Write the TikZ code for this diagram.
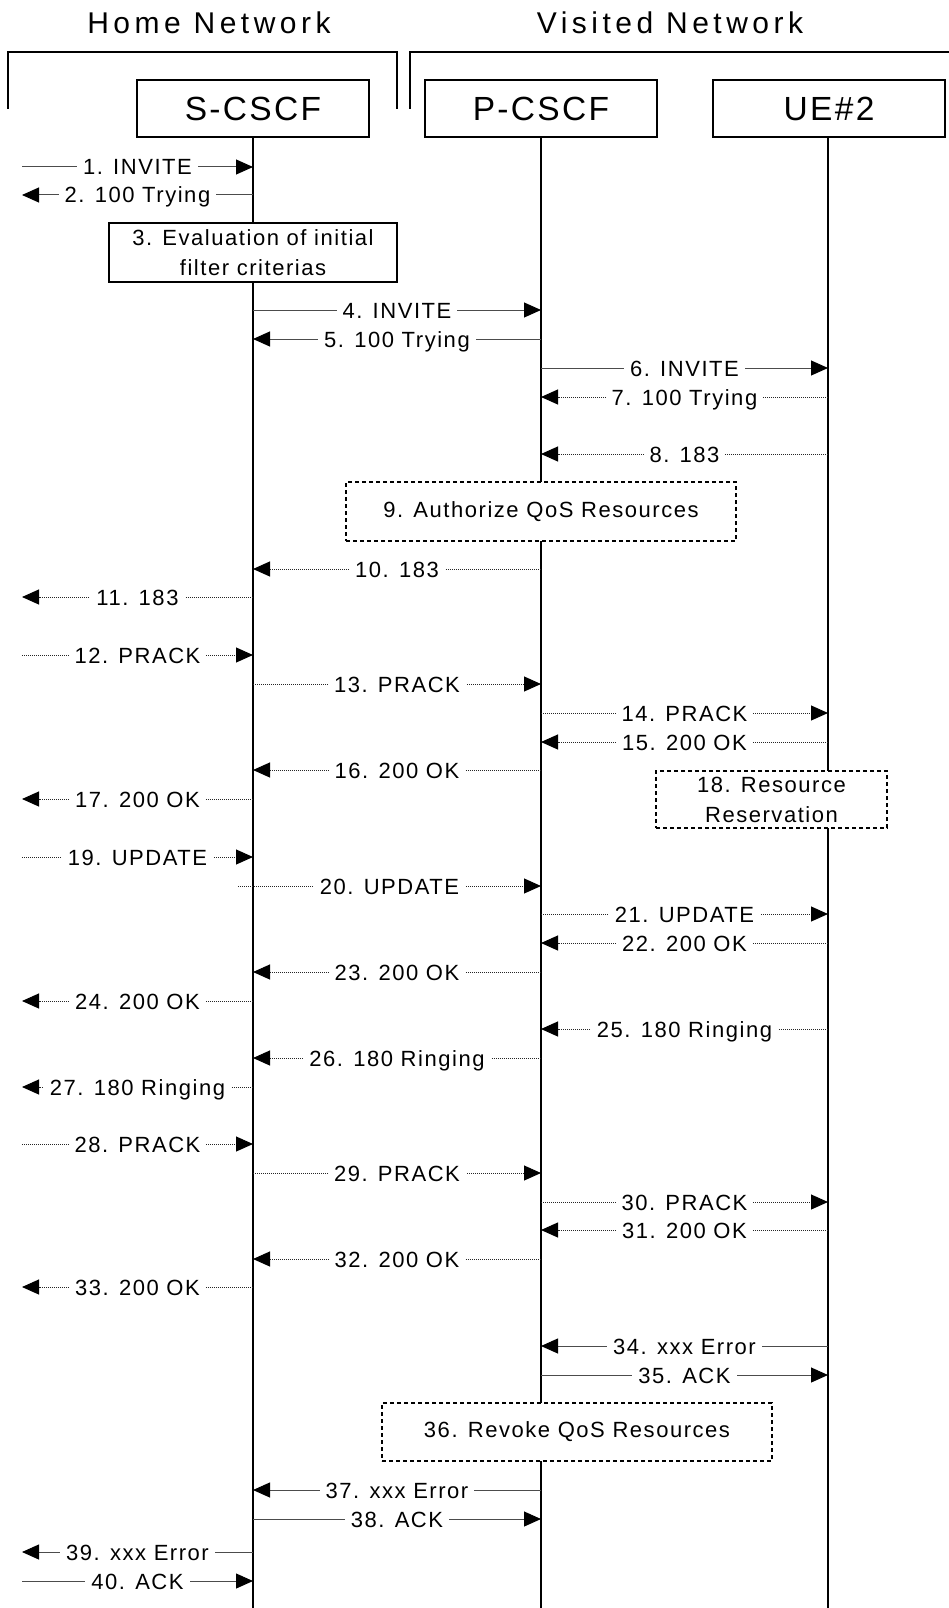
\documentclass[tikz,border=0pt]{standalone}
\usepackage{fontspec}
\setmainfont{Liberation Sans}
\newfontfamily\msgfam[LetterSpace=7]{Liberation Sans}
\newfontfamily\hdrfam[LetterSpace=15]{Liberation Sans}
\usetikzlibrary{arrows.meta}

\newcommand\msg[6]{%
  \coordinate (f#1) at (#3,#5);
  \coordinate (t#1) at (#4,#5);
  \draw[#2] (f#1) -- node[lbl]{#6} (t#1);
}
\def\xL{22}
\def\xS{253}
\def\xP{541}
\def\xU{828}

\tikzset{
  lbl/.style={fill=white, inner xsep=6pt, inner ysep=1pt, text height=16pt, text depth=0pt,
    font=\msgfam\fontsize{22}{30}\selectfont},
  smsg/.style={draw=black!70, line width=1pt, -{Triangle[length=17pt,width=15pt,color=black]}},
  dmsg/.style={smsg, draw=black!85, dash pattern=on 1pt off 1pt},
  life/.style={line width=2pt},
  entity/.style={draw, line width=2pt, fill=white, minimum width=232pt, minimum height=57pt,
    inner sep=0pt, font=\msgfam\fontsize{33.5}{40}\selectfont},
  proc/.style={draw, line width=2pt, fill=white, inner sep=0pt, align=center,
    font=\msgfam\fontsize{22}{30}\selectfont},
  dproc/.style={proc, dash pattern=on 4pt off 3pt},
  bracket/.style={line width=2pt},
  hdr/.style={anchor=base, inner sep=0pt, font=\hdrfam\fontsize{30}{36}\selectfont},
}

\begin{document}
\begin{tikzpicture}[x=1pt,y=-1pt]
\useasboundingbox (0,0) rectangle (949,1608);

\node[hdr] (hn) at (209,34) {Home Network};
\node[hdr] (vn) at (670,34) {Visited Network};
\draw[bracket] (8,109) -- (8,52) -- (397,52) -- (397,109);
\draw[bracket] (410,109) -- (410,52) -- (949,52);

\node[entity] (S) at (253,108.5) {S-CSCF};
\node[entity] (P) at (541,108.5) {P-CSCF};
\node[entity] (U) at (829,108.5) {UE\#2};
\coordinate (Sb) at (\xS,1608);
\coordinate (Pb) at (\xP,1608);
\coordinate (Ub) at (\xU,1608);
\draw[life] (S.south) -- (Sb);
\draw[life] (P.south) -- (Pb);
\draw[life] (U.south -| Ub) -- (Ub);

\node[proc, minimum width=288pt, minimum height=59pt] (b3) at (253,252.5)
  {3. Evaluation of initial\\filter criterias};
\node[dproc, minimum width=390pt, minimum height=59pt] (b9) at (541,511.5)
  {9. Authorize QoS Resources};
\node[dproc, minimum width=231pt, minimum height=57pt] (b18) at (771.5,799.5)
  {18. Resource\\Reservation};
\node[dproc, minimum width=390pt, minimum height=58pt] (b36) at (577,1432)
  {36. Revoke QoS Resources};

\msg{1}{smsg}{\xL}{\xS}{167}{1. INVITE}
\msg{2}{smsg}{\xS}{\xL}{195}{2. 100 Trying}
\msg{4}{smsg}{\xS}{\xP}{310}{4. INVITE}
\msg{5}{smsg}{\xP}{\xS}{339}{5. 100 Trying}
\msg{6}{smsg}{\xP}{\xU}{368}{6. INVITE}
\msg{7}{dmsg}{\xU}{\xP}{397}{7. 100 Trying}
\msg{8}{dmsg}{\xU}{\xP}{454}{8. 183}
\msg{10}{dmsg}{\xP}{\xS}{569}{10. 183}
\msg{11}{dmsg}{\xS}{\xL}{597}{11. 183}
\msg{12}{dmsg}{\xL}{\xS}{655}{12. PRACK}
\msg{13}{dmsg}{\xS}{\xP}{684}{13. PRACK}
\msg{14}{dmsg}{\xP}{\xU}{713}{14. PRACK}
\msg{15}{dmsg}{\xU}{\xP}{742}{15. 200 OK}
\msg{16}{dmsg}{\xP}{\xS}{770}{16. 200 OK}
\msg{17}{dmsg}{\xS}{\xL}{799}{17. 200 OK}
\msg{19}{dmsg}{\xL}{\xS}{857}{19. UPDATE}
\msg{20}{dmsg}{238}{\xP}{886}{20. UPDATE}
\msg{21}{dmsg}{\xP}{\xU}{914}{21. UPDATE}
\msg{22}{dmsg}{\xU}{\xP}{943}{22. 200 OK}
\msg{23}{dmsg}{\xP}{\xS}{972}{23. 200 OK}
\msg{24}{dmsg}{\xS}{\xL}{1001}{24. 200 OK}
\msg{25}{dmsg}{\xU}{\xP}{1029}{25. 180 Ringing}
\msg{26}{dmsg}{\xP}{\xS}{1058}{26. 180 Ringing}
\msg{27}{dmsg}{\xS}{\xL}{1087}{27. 180 Ringing}
\msg{28}{dmsg}{\xL}{\xS}{1144}{28. PRACK}
\msg{29}{dmsg}{\xS}{\xP}{1173}{29. PRACK}
\msg{30}{dmsg}{\xP}{\xU}{1202}{30. PRACK}
\msg{31}{dmsg}{\xU}{\xP}{1230}{31. 200 OK}
\msg{32}{dmsg}{\xP}{\xS}{1259}{32. 200 OK}
\msg{33}{dmsg}{\xS}{\xL}{1287}{33. 200 OK}
\msg{34}{smsg}{\xU}{\xP}{1346}{34. xxx Error}
\msg{35}{smsg}{\xP}{\xU}{1375}{35. ACK}
\msg{37}{smsg}{\xP}{\xS}{1490}{37. xxx Error}
\msg{38}{smsg}{\xS}{\xP}{1519}{38. ACK}
\msg{39}{smsg}{\xS}{\xL}{1552}{39. xxx Error}
\msg{40}{smsg}{\xL}{\xS}{1581}{40. ACK}
\end{tikzpicture}
\end{document}
